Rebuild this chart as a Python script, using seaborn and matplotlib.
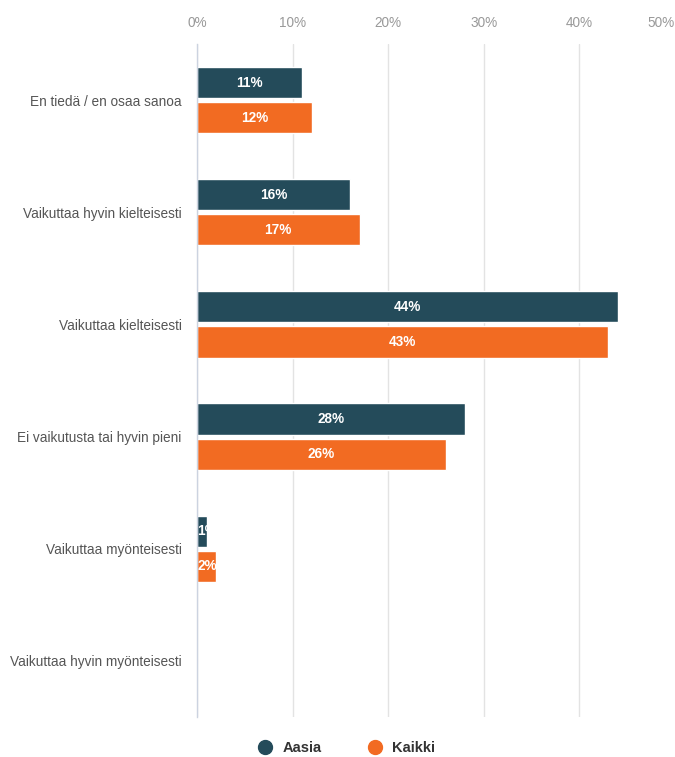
import matplotlib
matplotlib.use("Agg")
import matplotlib.pyplot as plt
from matplotlib.lines import Line2D
import seaborn as sns
import pandas as pd

categories = ["En tiedä / en osaa sanoa", "Vaikuttaa hyvin kielteisesti", "Vaikuttaa kielteisesti",
              "Ei vaikutusta tai hyvin pieni", "Vaikuttaa myönteisesti", "Vaikuttaa hyvin myönteisesti"]
series_names = ["Aasia", "Kaikki"]
aasia = [11, 16, 44, 28, 1, 0]
kaikki = [12, 17, 43, 26, 2, 0]
tick_values = [0, 10, 20, 30, 40, 50]
tick_labels = ["0%", "10%", "20%", "30%", "40%", "50%"]
colors = ["#244b5a", "#f26b22"]

df = pd.DataFrame({
    "category": categories * 2,
    "series": [series_names[0]] * len(categories) + [series_names[1]] * len(categories),
    "value": aasia + kaikki,
})

sns.set_theme(style="white")
plt.rcParams["font.family"] = ["Liberation Sans", "DejaVu Sans"]

fig = plt.figure(figsize=(6.75, 7.57), dpi=100)
ax = fig.add_axes([197 / 675, 1 - 717 / 757, 1 - 197 / 675, (717 - 44) / 757])

sns.barplot(data=df, y="category", x="value", hue="series", order=categories,
            hue_order=series_names, palette=colors, orient="h", width=0.626, gap=0.115,
            ax=ax, legend=False, saturation=1)

for cont, vals in zip(ax.containers, [aasia, kaikki]):
    for patch, v in zip(cont.patches, vals):
        if v <= 0:
            continue
        yc = patch.get_y() + patch.get_height() / 2
        if v < 3:
            ax.text(patch.get_x(), yc, f"{v}%", ha="left", va="center", color="white",
                    fontsize=9.8, fontweight="bold")
        else:
            ax.text(patch.get_x() + patch.get_width() / 2, yc, f"{v}%", ha="center",
                    va="center", color="white", fontsize=9.8, fontweight="bold")

ax.set_xlim(0, 50)
ax.set_ylim(len(categories) - 0.5, -0.5)
ax.xaxis.tick_top()
ax.set_xticks(tick_values)
ax.set_xticklabels(tick_labels, color="#999999", fontsize=9.8)
lbls = ax.get_xticklabels()
lbls[-1].set_ha("right")
ax.tick_params(axis="x", length=0, pad=10)
ax.tick_params(axis="y", length=0, pad=11, labelsize=9.8, labelcolor="#555555")
ax.set_xlabel("")
ax.set_ylabel("")
ax.grid(axis="x", color="#e3e3e3", linewidth=1)
ax.xaxis.get_gridlines()[-1].set_visible(False)
ax.set_axisbelow(True)
for s in ["top", "right", "bottom"]:
    ax.spines[s].set_visible(False)
ax.spines["left"].set_color("#ccd3e0")
ax.spines["left"].set_linewidth(1)

handles = [Line2D([], [], marker="o", linestyle="", markersize=10, markerfacecolor=c,
                  markeredgecolor=c) for c in colors]
fig.legend(handles, series_names, loc="center", ncol=2, frameon=False,
           bbox_to_anchor=(343 / 675, 1 - 748 / 757), columnspacing=2.6, handletextpad=0.2,
           prop={"weight": "bold", "size": 10.5}, labelcolor="#333333")

fig.savefig("out.png", dpi=100)
